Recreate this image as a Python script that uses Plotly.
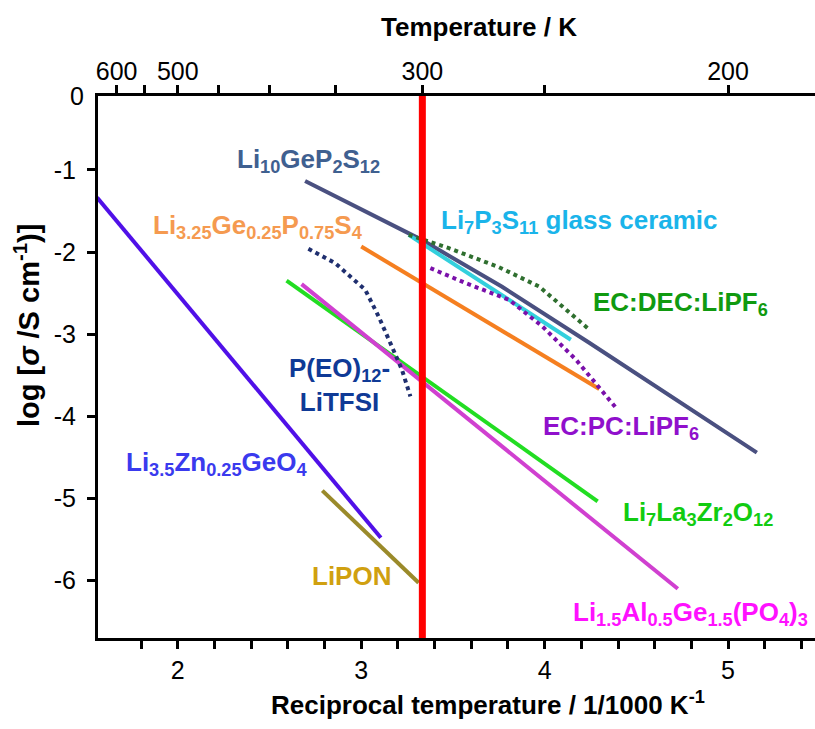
import plotly.graph_objects as go

# ---------------- data (x = 1000/T, y = log sigma) ----------------
lgps_x = [2.694, 3.330, 3.768, 4.243, 5.157]
lgps_y = [-1.134, -1.852, -2.423, -3.105, -4.443]

lps_x = [3.259, 4.143]
lps_y = [-1.791, -3.068]

lgps325_x = [3.000, 4.298]
lgps325_y = [-1.933, -3.668]

peo_x = [2.712, 2.858, 3.022, 3.095, 3.167, 3.222, 3.268]
peo_y = [-1.961, -2.135, -2.460, -2.785, -3.150, -3.433, -3.758]

llzo_x = [2.593, 4.289]
llzo_y = [-2.347, -5.035]

lagp_x = [2.675, 4.726]
lagp_y = [-2.391, -6.101]

ecdec_x = [3.259, 3.478, 3.751, 3.970, 4.234]
ecdec_y = [-1.791, -1.953, -2.184, -2.420, -2.926]

ecpc_x = [3.377, 3.569, 3.806, 3.988, 4.171, 4.298, 4.390]
ecpc_y = [-2.196, -2.378, -2.582, -2.906, -3.311, -3.655, -3.899]

lizn_x = [1.560, 3.107]
lizn_y = [-1.336, -5.480]

lipon_x = [2.788, 3.313]
lipon_y = [-4.905, -6.028]

room_T = 300
y_range = [-6.7, -0.1]
x_range = [1.565, 5.474]

y_ticks = [-1, -2, -3, -4, -5, -6]
x_ticks = [2, 3, 4, 5]
x_minor = [1.8, 2.2, 2.4, 2.6, 2.8, 3.2, 3.4, 3.6, 3.8, 4.2, 4.4, 4.6, 4.8, 5.2, 5.4]
top_labelled = [600, 500, 300, 200]
top_minor = [550, 450, 400, 350, 250]

FONT = "Liberation Sans, Arial, sans-serif"

fig = go.Figure()

def line(x, y, color, dash="solid", width=4):
    fig.add_trace(go.Scatter(x=x, y=y, mode="lines", showlegend=False,
                             line=dict(color=color, width=width, dash=dash)))

line(lizn_x, lizn_y, "#5010E8")
line(lipon_x, lipon_y, "#9A8A2A")
line(llzo_x, llzo_y, "#22DD22")
line(lagp_x, lagp_y, "#D040D0")
line(lgps325_x, lgps325_y, "#F57F20")
line(lgps_x, lgps_y, "#4A5080")
line(lps_x, lps_y, "#33D0DD")
line(peo_x, peo_y, "#1F2F6F", "dot")
line(ecdec_x, ecdec_y, "#2F6F2F", "dot")
line(ecpc_x, ecpc_y, "#7A10AA", "dot")
# room temperature marker
line([1000 / room_T, 1000 / room_T], y_range, "#FF0000", width=7)

# invisible trace to activate top axis
fig.add_trace(go.Scatter(x=[x_range[0]], y=[y_range[0]], xaxis="x2", mode="markers",
                         marker=dict(opacity=0), showlegend=False, hoverinfo="skip"))

axis_common = dict(showline=True, linecolor="black", linewidth=3, ticks="outside",
                   ticklen=8, tickwidth=3, tickcolor="black", showgrid=False,
                   zeroline=False, tickfont=dict(family=FONT, size=25, color="black"))
minor_common = dict(ticks="outside", ticklen=8, tickwidth=3, tickcolor="black", showgrid=False)

fig.update_layout(
    width=815, height=729,
    margin=dict(l=98, r=0, t=96, b=91),
    plot_bgcolor="white", paper_bgcolor="white",
    xaxis=dict(range=x_range, tickvals=x_ticks, ticktext=[str(v) for v in x_ticks],
               minor=dict(tickmode="array", tickvals=x_minor, **minor_common), **axis_common),
    xaxis2=dict(range=x_range, overlaying="x", side="top", anchor="y",
                tickvals=[1000 / t for t in top_labelled], ticktext=[str(t) for t in top_labelled],
                minor=dict(tickmode="array", tickvals=[1000 / t for t in top_minor], **minor_common),
                ticklabelstandoff=-5, **axis_common),
    yaxis=dict(range=y_range, tickvals=y_ticks, ticktext=[str(v) for v in y_ticks],
               ticklabelstandoff=6, **axis_common),
)

def ann(text, x, y, color, xanchor="left", xref="x", yref="y", size=26, bold=True, textangle=0, align="left"):
    fig.add_annotation(text=f"<b>{text}</b>" if bold else text, x=x, y=y, xref=xref, yref=yref,
                       xanchor=xanchor, yanchor="middle", showarrow=False, align=align,
                       textangle=textangle,
                       font=dict(family=FONT, size=size, color=color))

ann("Li<sub>10</sub>GeP<sub>2</sub>S<sub>12</sub>", 2.311, -0.891, "#3F6090")
ann("Li<sub>3.25</sub>Ge<sub>0.25</sub>P<sub>0.75</sub>S<sub>4</sub>", 1.855, -1.693, "#F59A50")
ann("P(EO)<sub>12</sub>-<br>LiTFSI", 2.881, -3.619, "#0F3A96", xanchor="center", align="center")
ann("Li<sub>7</sub>P<sub>3</sub>S<sub>11</sub> glass ceramic", 3.423, -1.629, "#1AB4EA")
ann("EC:DEC:LiPF<sub>6</sub>", 4.253, -2.627, "#109A10")
ann("EC:PC:LiPF<sub>6</sub>", 3.979, -4.135, "#9010CC")
ann("Li<sub>7</sub>La<sub>3</sub>Zr<sub>2</sub>O<sub>12</sub>", 4.417, -5.189, "#11CC11")
ann("Li<sub>1.5</sub>Al<sub>0.5</sub>Ge<sub>1.5</sub>(PO<sub>4</sub>)<sub>3</sub>", 4.143, -6.405, "#FF11FF")
ann("Li<sub>3.5</sub>Zn<sub>0.25</sub>GeO<sub>4</sub>", 1.709, -4.573, "#3A3AEE")
ann("LiPON", 2.721, -5.939, "#D0A010")

# axis titles
ann("Temperature / K", 3.642, 1.127, "black", xanchor="center", yref="paper")
ann("Reciprocal temperature / 1/1000 K<sup>-1</sup>", 3.689, -0.12, "black", xanchor="center", yref="paper")
ann("log [<i>σ</i> /S cm<sup>-1</sup>)]", -0.099, -2.90, "black", xanchor="center", xref="paper",
    textangle=-90, size=29)
# "0" label at the top of the y axis
fig.add_annotation(text="0", x=0, y=1, xref="paper", yref="paper", xanchor="right", yanchor="middle",
                   xshift=-12, showarrow=False, font=dict(family=FONT, size=25, color="black"))

fig.write_html("out.html", config={"displayModeBar": False},
               post_script="document.body.style.margin='0px';document.body.style.overflow='hidden';")
